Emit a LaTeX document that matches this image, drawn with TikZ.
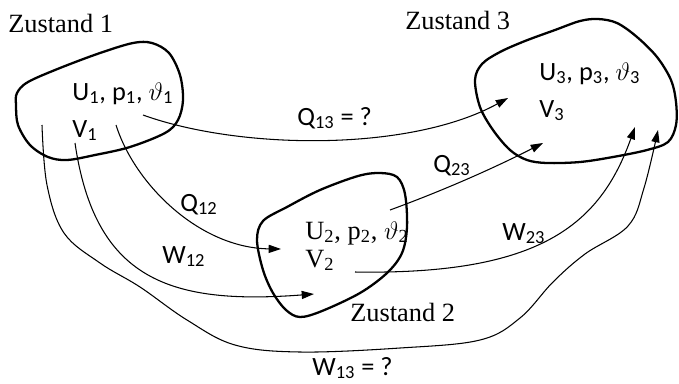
\documentclass[tikz,border=0pt]{standalone}
\usepackage{fontspec}
\setmainfont{Liberation Serif}
\newfontfamily\carlito{Carlito}
\usetikzlibrary{arrows.meta}
\newcommand{\mysub}[1]{\textsubscript{#1}}
\tikzset{
  blob/.style={line width=1.3pt, line join=round},
  flow/.style={line width=0.6pt, -{Triangle[length=7pt,width=4.6pt]}},
  serlabel/.style={anchor=base west, inner sep=0pt, font=\fontsize{15}{18}\selectfont},
  sanslabel/.style={anchor=base west, inner sep=0pt, font=\carlito\fontsize{15}{18}\selectfont},
}
\begin{document}
\begin{tikzpicture}[x=0.02cm,y=-0.02cm]
\useasboundingbox (0,0) rectangle (679,383);
% blobs
\draw[blob] plot[smooth cycle, tension=0.55] coordinates {(17,93) (28,82) (60,68) (100,53) (133,43) (152,43) (169,53) (180,75) (183,100) (178,120) (165,133) (130,147) (95,155) (67,160) (48,157) (30,145) (18,125) (16,105)};
\draw[blob] plot[smooth cycle, tension=0.55] coordinates {(475,80) (482,64) (500,52) (525,41) (555,30) (580,21) (598,19) (617,23) (637,37) (657,57) (671,80) (676,102) (676,125) (668,142) (647,150) (613,157) (580,162) (547,163) (527,160) (510,150) (493,130) (480,107)};
\draw[blob] plot[smooth cycle, tension=0.55] coordinates {(257,240) (263,221) (287,207) (320,190) (358,176) (380,173) (397,177) (405,194) (407,227) (402,253) (387,273) (360,293) (322,311) (300,317) (286,310) (273,293) (263,270)};
% titles
\node[serlabel] (z1) at (8,32) {Zustand 1};
\node[serlabel] (z3) at (405,29) {Zustand 3};
\node[serlabel] (z2) at (350,321) {Zustand 2};
% state variables
\node[sanslabel] (s1a) at (72,100) {U\mysub{1}, p\mysub{1}, $\vartheta$\mysub{1}};
\node[sanslabel] (s1b) at (72,137) {V\mysub{1}};
\node[sanslabel] (s3a) at (539,80) {U\mysub{3}, p\mysub{3}, $\vartheta$\mysub{3}};
\node[sanslabel] (s3b) at (539,117) {V\mysub{3}};
\node[serlabel] (s2a) at (305,239) {U\mysub{2}, p\mysub{2}, $\vartheta$\mysub{2}};
\node[serlabel] (s2b) at (305,267) {V\mysub{2}};
% labels
\node[sanslabel] (lq13) at (297,125) {Q\mysub{13} = ?};
\node[sanslabel] (lq12) at (180,211) {Q\mysub{12}};
\node[sanslabel] (lw12) at (162,263) {W\mysub{12}};
\node[sanslabel] (lq23) at (433,172) {Q\mysub{23}};
\node[sanslabel] (lw23) at (502,240) {W\mysub{23}};
\node[sanslabel] (lw13) at (312,375) {W\mysub{13} = ?};
% endpoints
\coordinate (q13s) at (143,115);
\coordinate (q13e) at (508,98);
\coordinate (q12s) at (116,125);
\coordinate (q12e) at (281,249);
\coordinate (w12s) at (75,143);
\coordinate (w12e) at (314,294);
\coordinate (w13s) at (42,125);
\coordinate (w13e) at (658,130);
\coordinate (q23s) at (390,210);
\coordinate (q23e) at (543,143);
\coordinate (w23s) at (355,272);
\coordinate (w23e) at (635,127);
% flows
\draw[flow] (q13s) .. controls (240,150) and (410,152) .. (q13e);
\draw[flow] (q12s) .. controls (135,185) and (200,248) .. (q12e);
\draw[flow] (w12s) .. controls (95,280) and (170,305) .. (w12e);
\draw[flow] (q23s) .. controls (450,188) and (500,165) .. (q23e);
\draw[flow] (w23s) .. controls (540,275) and (600,225) .. (w23e);
\draw[flow] plot[smooth, tension=0.6] coordinates {(w13s) (47,185) (64,233) (100,263) (140,287) (187,320) (235,345) (300,352) (400,348) (480,340) (520,318) (553,282) (585,254) (628,226) (644,188) (w13e)};
\end{tikzpicture}
\end{document}
